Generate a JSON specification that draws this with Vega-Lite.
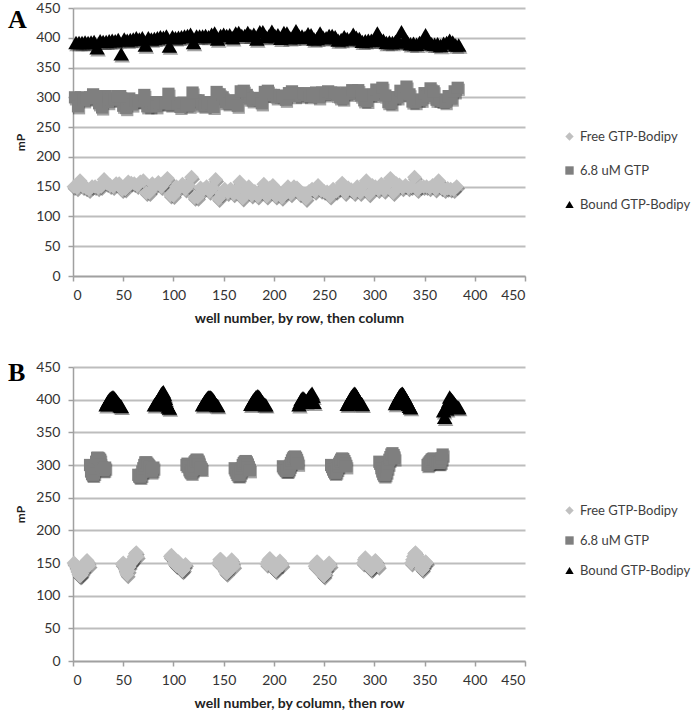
{
"$schema":"https://vega.github.io/schema/vega-lite/v6.json",
"padding":{"left":8,"top":1,"right":0,"bottom":0},
"background":"white",
"config":{"view":{"stroke":null},"font":"Lato",
"axis":{"labelFont":"Lato","labelFontSize":14,"labelColor":"#333333","domainColor":"#a0a0a0","domainWidth":1.5,"tickColor":"#a0a0a0","tickWidth":1.5,"tickSize":5,"titleFont":"Lato","titleFontWeight":"bold","titleColor":"#222222","gridColor":"#bdbdbd","gridWidth":2},
"legend":{"title":null,"labelFont":"Lato","labelFontSize":13,"labelColor":"#404040","symbolSize":70,"labelOffset":4,"symbolStrokeWidth":0}},
"data":{"values":[
{"s":"Free GTP-Bodipy","byRow":1,"byCol":1,"mP":150},{"s":"Free GTP-Bodipy","byRow":25,"byCol":2,"mP":148},{"s":"Free GTP-Bodipy","byRow":49,"byCol":3,"mP":145},{"s":"Free GTP-Bodipy","byRow":73,"byCol":4,"mP":140},{"s":"Free GTP-Bodipy","byRow":97,"byCol":5,"mP":136},{"s":"Free GTP-Bodipy","byRow":121,"byCol":6,"mP":132},{"s":"Free GTP-Bodipy","byRow":145,"byCol":7,"mP":130},{"s":"Free GTP-Bodipy","byRow":169,"byCol":8,"mP":131},{"s":"Free GTP-Bodipy","byRow":193,"byCol":9,"mP":134},{"s":"Free GTP-Bodipy","byRow":217,"byCol":10,"mP":138},{"s":"Free GTP-Bodipy","byRow":241,"byCol":11,"mP":142},{"s":"Free GTP-Bodipy","byRow":265,"byCol":12,"mP":147},{"s":"Free GTP-Bodipy","byRow":289,"byCol":13,"mP":152},{"s":"Free GTP-Bodipy","byRow":313,"byCol":14,"mP":154},{"s":"Free GTP-Bodipy","byRow":337,"byCol":15,"mP":150},{"s":"Free GTP-Bodipy","byRow":361,"byCol":16,"mP":146},
{"s":"6.8 uM GTP","byRow":2,"byCol":17,"mP":300},{"s":"6.8 uM GTP","byRow":26,"byCol":18,"mP":290},{"s":"6.8 uM GTP","byRow":50,"byCol":19,"mP":286},{"s":"6.8 uM GTP","byRow":74,"byCol":20,"mP":285},{"s":"6.8 uM GTP","byRow":98,"byCol":21,"mP":288},{"s":"6.8 uM GTP","byRow":122,"byCol":22,"mP":295},{"s":"6.8 uM GTP","byRow":146,"byCol":23,"mP":305},{"s":"6.8 uM GTP","byRow":170,"byCol":24,"mP":311},{"s":"6.8 uM GTP","byRow":194,"byCol":25,"mP":311},{"s":"6.8 uM GTP","byRow":218,"byCol":26,"mP":310},{"s":"6.8 uM GTP","byRow":242,"byCol":27,"mP":308},{"s":"6.8 uM GTP","byRow":266,"byCol":28,"mP":300},{"s":"6.8 uM GTP","byRow":290,"byCol":29,"mP":295},{"s":"6.8 uM GTP","byRow":314,"byCol":30,"mP":292},{"s":"6.8 uM GTP","byRow":338,"byCol":31,"mP":293},{"s":"6.8 uM GTP","byRow":362,"byCol":32,"mP":296},
{"s":"Bound GTP-Bodipy","byRow":3,"byCol":33,"mP":392},{"s":"Bound GTP-Bodipy","byRow":27,"byCol":34,"mP":395},{"s":"Bound GTP-Bodipy","byRow":51,"byCol":35,"mP":398},{"s":"Bound GTP-Bodipy","byRow":75,"byCol":36,"mP":400},{"s":"Bound GTP-Bodipy","byRow":99,"byCol":37,"mP":402},{"s":"Bound GTP-Bodipy","byRow":123,"byCol":38,"mP":403},{"s":"Bound GTP-Bodipy","byRow":147,"byCol":39,"mP":404},{"s":"Bound GTP-Bodipy","byRow":171,"byCol":40,"mP":404},{"s":"Bound GTP-Bodipy","byRow":195,"byCol":41,"mP":403},{"s":"Bound GTP-Bodipy","byRow":219,"byCol":42,"mP":401},{"s":"Bound GTP-Bodipy","byRow":243,"byCol":43,"mP":399},{"s":"Bound GTP-Bodipy","byRow":267,"byCol":44,"mP":397},{"s":"Bound GTP-Bodipy","byRow":291,"byCol":45,"mP":395},{"s":"Bound GTP-Bodipy","byRow":315,"byCol":46,"mP":393},{"s":"Bound GTP-Bodipy","byRow":339,"byCol":47,"mP":391},{"s":"Bound GTP-Bodipy","byRow":363,"byCol":48,"mP":390},
{"s":"Free GTP-Bodipy","byRow":4,"byCol":49,"mP":148},{"s":"Free GTP-Bodipy","byRow":28,"byCol":50,"mP":150},{"s":"Free GTP-Bodipy","byRow":52,"byCol":51,"mP":146},{"s":"Free GTP-Bodipy","byRow":76,"byCol":52,"mP":140},{"s":"Free GTP-Bodipy","byRow":100,"byCol":53,"mP":135},{"s":"Free GTP-Bodipy","byRow":124,"byCol":54,"mP":132},{"s":"Free GTP-Bodipy","byRow":148,"byCol":55,"mP":138},{"s":"Free GTP-Bodipy","byRow":172,"byCol":56,"mP":144},{"s":"Free GTP-Bodipy","byRow":196,"byCol":57,"mP":148},{"s":"Free GTP-Bodipy","byRow":220,"byCol":58,"mP":150},{"s":"Free GTP-Bodipy","byRow":244,"byCol":59,"mP":152},{"s":"Free GTP-Bodipy","byRow":268,"byCol":60,"mP":156},{"s":"Free GTP-Bodipy","byRow":292,"byCol":61,"mP":160},{"s":"Free GTP-Bodipy","byRow":316,"byCol":62,"mP":164},{"s":"Free GTP-Bodipy","byRow":340,"byCol":63,"mP":166},{"s":"Free GTP-Bodipy","byRow":364,"byCol":64,"mP":160},
{"s":"6.8 uM GTP","byRow":5,"byCol":65,"mP":285},{"s":"6.8 uM GTP","byRow":29,"byCol":66,"mP":283},{"s":"6.8 uM GTP","byRow":53,"byCol":67,"mP":282},{"s":"6.8 uM GTP","byRow":77,"byCol":68,"mP":285},{"s":"6.8 uM GTP","byRow":101,"byCol":69,"mP":290},{"s":"6.8 uM GTP","byRow":125,"byCol":70,"mP":295},{"s":"6.8 uM GTP","byRow":149,"byCol":71,"mP":300},{"s":"6.8 uM GTP","byRow":173,"byCol":72,"mP":304},{"s":"6.8 uM GTP","byRow":197,"byCol":73,"mP":304},{"s":"6.8 uM GTP","byRow":221,"byCol":74,"mP":302},{"s":"6.8 uM GTP","byRow":245,"byCol":75,"mP":300},{"s":"6.8 uM GTP","byRow":269,"byCol":76,"mP":298},{"s":"6.8 uM GTP","byRow":293,"byCol":77,"mP":294},{"s":"6.8 uM GTP","byRow":317,"byCol":78,"mP":290},{"s":"6.8 uM GTP","byRow":341,"byCol":79,"mP":292},{"s":"6.8 uM GTP","byRow":365,"byCol":80,"mP":296},
{"s":"Bound GTP-Bodipy","byRow":6,"byCol":81,"mP":392},{"s":"Bound GTP-Bodipy","byRow":30,"byCol":82,"mP":394},{"s":"Bound GTP-Bodipy","byRow":54,"byCol":83,"mP":396},{"s":"Bound GTP-Bodipy","byRow":78,"byCol":84,"mP":398},{"s":"Bound GTP-Bodipy","byRow":102,"byCol":85,"mP":400},{"s":"Bound GTP-Bodipy","byRow":126,"byCol":86,"mP":403},{"s":"Bound GTP-Bodipy","byRow":150,"byCol":87,"mP":406},{"s":"Bound GTP-Bodipy","byRow":174,"byCol":88,"mP":409},{"s":"Bound GTP-Bodipy","byRow":198,"byCol":89,"mP":411},{"s":"Bound GTP-Bodipy","byRow":222,"byCol":90,"mP":412},{"s":"Bound GTP-Bodipy","byRow":246,"byCol":91,"mP":408},{"s":"Bound GTP-Bodipy","byRow":270,"byCol":92,"mP":402},{"s":"Bound GTP-Bodipy","byRow":294,"byCol":93,"mP":396},{"s":"Bound GTP-Bodipy","byRow":318,"byCol":94,"mP":392},{"s":"Bound GTP-Bodipy","byRow":342,"byCol":95,"mP":389},{"s":"Bound GTP-Bodipy","byRow":366,"byCol":96,"mP":387},
{"s":"Free GTP-Bodipy","byRow":7,"byCol":97,"mP":160},{"s":"Free GTP-Bodipy","byRow":31,"byCol":98,"mP":162},{"s":"Free GTP-Bodipy","byRow":55,"byCol":99,"mP":158},{"s":"Free GTP-Bodipy","byRow":79,"byCol":100,"mP":155},{"s":"Free GTP-Bodipy","byRow":103,"byCol":101,"mP":150},{"s":"Free GTP-Bodipy","byRow":127,"byCol":102,"mP":148},{"s":"Free GTP-Bodipy","byRow":151,"byCol":103,"mP":146},{"s":"Free GTP-Bodipy","byRow":175,"byCol":104,"mP":150},{"s":"Free GTP-Bodipy","byRow":199,"byCol":105,"mP":152},{"s":"Free GTP-Bodipy","byRow":223,"byCol":106,"mP":148},{"s":"Free GTP-Bodipy","byRow":247,"byCol":107,"mP":144},{"s":"Free GTP-Bodipy","byRow":271,"byCol":108,"mP":140},{"s":"Free GTP-Bodipy","byRow":295,"byCol":109,"mP":138},{"s":"Free GTP-Bodipy","byRow":319,"byCol":110,"mP":140},{"s":"Free GTP-Bodipy","byRow":343,"byCol":111,"mP":145},{"s":"Free GTP-Bodipy","byRow":367,"byCol":112,"mP":148},
{"s":"6.8 uM GTP","byRow":8,"byCol":113,"mP":300},{"s":"6.8 uM GTP","byRow":32,"byCol":114,"mP":302},{"s":"6.8 uM GTP","byRow":56,"byCol":115,"mP":298},{"s":"6.8 uM GTP","byRow":80,"byCol":116,"mP":292},{"s":"6.8 uM GTP","byRow":104,"byCol":117,"mP":290},{"s":"6.8 uM GTP","byRow":128,"byCol":118,"mP":288},{"s":"6.8 uM GTP","byRow":152,"byCol":119,"mP":292},{"s":"6.8 uM GTP","byRow":176,"byCol":120,"mP":298},{"s":"6.8 uM GTP","byRow":200,"byCol":121,"mP":304},{"s":"6.8 uM GTP","byRow":224,"byCol":122,"mP":306},{"s":"6.8 uM GTP","byRow":248,"byCol":123,"mP":308},{"s":"6.8 uM GTP","byRow":272,"byCol":124,"mP":308},{"s":"6.8 uM GTP","byRow":296,"byCol":125,"mP":305},{"s":"6.8 uM GTP","byRow":320,"byCol":126,"mP":300},{"s":"6.8 uM GTP","byRow":344,"byCol":127,"mP":296},{"s":"6.8 uM GTP","byRow":368,"byCol":128,"mP":294},
{"s":"Bound GTP-Bodipy","byRow":9,"byCol":129,"mP":392},{"s":"Bound GTP-Bodipy","byRow":33,"byCol":130,"mP":394},{"s":"Bound GTP-Bodipy","byRow":57,"byCol":131,"mP":397},{"s":"Bound GTP-Bodipy","byRow":81,"byCol":132,"mP":399},{"s":"Bound GTP-Bodipy","byRow":105,"byCol":133,"mP":401},{"s":"Bound GTP-Bodipy","byRow":129,"byCol":134,"mP":403},{"s":"Bound GTP-Bodipy","byRow":153,"byCol":135,"mP":404},{"s":"Bound GTP-Bodipy","byRow":177,"byCol":136,"mP":404},{"s":"Bound GTP-Bodipy","byRow":201,"byCol":137,"mP":404},{"s":"Bound GTP-Bodipy","byRow":225,"byCol":138,"mP":403},{"s":"Bound GTP-Bodipy","byRow":249,"byCol":139,"mP":401},{"s":"Bound GTP-Bodipy","byRow":273,"byCol":140,"mP":399},{"s":"Bound GTP-Bodipy","byRow":297,"byCol":141,"mP":396},{"s":"Bound GTP-Bodipy","byRow":321,"byCol":142,"mP":394},{"s":"Bound GTP-Bodipy","byRow":345,"byCol":143,"mP":392},{"s":"Bound GTP-Bodipy","byRow":369,"byCol":144,"mP":391},
{"s":"Free GTP-Bodipy","byRow":10,"byCol":145,"mP":150},{"s":"Free GTP-Bodipy","byRow":34,"byCol":146,"mP":155},{"s":"Free GTP-Bodipy","byRow":58,"byCol":147,"mP":156},{"s":"Free GTP-Bodipy","byRow":82,"byCol":148,"mP":152},{"s":"Free GTP-Bodipy","byRow":106,"byCol":149,"mP":148},{"s":"Free GTP-Bodipy","byRow":130,"byCol":150,"mP":145},{"s":"Free GTP-Bodipy","byRow":154,"byCol":151,"mP":140},{"s":"Free GTP-Bodipy","byRow":178,"byCol":152,"mP":136},{"s":"Free GTP-Bodipy","byRow":202,"byCol":153,"mP":134},{"s":"Free GTP-Bodipy","byRow":226,"byCol":154,"mP":138},{"s":"Free GTP-Bodipy","byRow":250,"byCol":155,"mP":142},{"s":"Free GTP-Bodipy","byRow":274,"byCol":156,"mP":148},{"s":"Free GTP-Bodipy","byRow":298,"byCol":157,"mP":152},{"s":"Free GTP-Bodipy","byRow":322,"byCol":158,"mP":155},{"s":"Free GTP-Bodipy","byRow":346,"byCol":159,"mP":150},{"s":"Free GTP-Bodipy","byRow":370,"byCol":160,"mP":145},
{"s":"6.8 uM GTP","byRow":11,"byCol":161,"mP":295},{"s":"6.8 uM GTP","byRow":35,"byCol":162,"mP":292},{"s":"6.8 uM GTP","byRow":59,"byCol":163,"mP":288},{"s":"6.8 uM GTP","byRow":83,"byCol":164,"mP":285},{"s":"6.8 uM GTP","byRow":107,"byCol":165,"mP":284},{"s":"6.8 uM GTP","byRow":131,"byCol":166,"mP":286},{"s":"6.8 uM GTP","byRow":155,"byCol":167,"mP":290},{"s":"6.8 uM GTP","byRow":179,"byCol":168,"mP":295},{"s":"6.8 uM GTP","byRow":203,"byCol":169,"mP":300},{"s":"6.8 uM GTP","byRow":227,"byCol":170,"mP":303},{"s":"6.8 uM GTP","byRow":251,"byCol":171,"mP":305},{"s":"6.8 uM GTP","byRow":275,"byCol":172,"mP":306},{"s":"6.8 uM GTP","byRow":299,"byCol":173,"mP":304},{"s":"6.8 uM GTP","byRow":323,"byCol":174,"mP":300},{"s":"6.8 uM GTP","byRow":347,"byCol":175,"mP":296},{"s":"6.8 uM GTP","byRow":371,"byCol":176,"mP":292},
{"s":"Bound GTP-Bodipy","byRow":12,"byCol":177,"mP":393},{"s":"Bound GTP-Bodipy","byRow":36,"byCol":178,"mP":395},{"s":"Bound GTP-Bodipy","byRow":60,"byCol":179,"mP":398},{"s":"Bound GTP-Bodipy","byRow":84,"byCol":180,"mP":400},{"s":"Bound GTP-Bodipy","byRow":108,"byCol":181,"mP":402},{"s":"Bound GTP-Bodipy","byRow":132,"byCol":182,"mP":404},{"s":"Bound GTP-Bodipy","byRow":156,"byCol":183,"mP":405},{"s":"Bound GTP-Bodipy","byRow":180,"byCol":184,"mP":406},{"s":"Bound GTP-Bodipy","byRow":204,"byCol":185,"mP":405},{"s":"Bound GTP-Bodipy","byRow":228,"byCol":186,"mP":403},{"s":"Bound GTP-Bodipy","byRow":252,"byCol":187,"mP":400},{"s":"Bound GTP-Bodipy","byRow":276,"byCol":188,"mP":398},{"s":"Bound GTP-Bodipy","byRow":300,"byCol":189,"mP":396},{"s":"Bound GTP-Bodipy","byRow":324,"byCol":190,"mP":394},{"s":"Bound GTP-Bodipy","byRow":348,"byCol":191,"mP":393},{"s":"Bound GTP-Bodipy","byRow":372,"byCol":192,"mP":392},
{"s":"Free GTP-Bodipy","byRow":13,"byCol":193,"mP":148},{"s":"Free GTP-Bodipy","byRow":37,"byCol":194,"mP":152},{"s":"Free GTP-Bodipy","byRow":61,"byCol":195,"mP":155},{"s":"Free GTP-Bodipy","byRow":85,"byCol":196,"mP":157},{"s":"Free GTP-Bodipy","byRow":109,"byCol":197,"mP":154},{"s":"Free GTP-Bodipy","byRow":133,"byCol":198,"mP":150},{"s":"Free GTP-Bodipy","byRow":157,"byCol":199,"mP":146},{"s":"Free GTP-Bodipy","byRow":181,"byCol":200,"mP":142},{"s":"Free GTP-Bodipy","byRow":205,"byCol":201,"mP":140},{"s":"Free GTP-Bodipy","byRow":229,"byCol":202,"mP":138},{"s":"Free GTP-Bodipy","byRow":253,"byCol":203,"mP":141},{"s":"Free GTP-Bodipy","byRow":277,"byCol":204,"mP":145},{"s":"Free GTP-Bodipy","byRow":301,"byCol":205,"mP":150},{"s":"Free GTP-Bodipy","byRow":325,"byCol":206,"mP":153},{"s":"Free GTP-Bodipy","byRow":349,"byCol":207,"mP":150},{"s":"Free GTP-Bodipy","byRow":373,"byCol":208,"mP":147},
{"s":"6.8 uM GTP","byRow":14,"byCol":209,"mP":298},{"s":"6.8 uM GTP","byRow":38,"byCol":210,"mP":296},{"s":"6.8 uM GTP","byRow":62,"byCol":211,"mP":294},{"s":"6.8 uM GTP","byRow":86,"byCol":212,"mP":292},{"s":"6.8 uM GTP","byRow":110,"byCol":213,"mP":291},{"s":"6.8 uM GTP","byRow":134,"byCol":214,"mP":292},{"s":"6.8 uM GTP","byRow":158,"byCol":215,"mP":295},{"s":"6.8 uM GTP","byRow":182,"byCol":216,"mP":299},{"s":"6.8 uM GTP","byRow":206,"byCol":217,"mP":303},{"s":"6.8 uM GTP","byRow":230,"byCol":218,"mP":307},{"s":"6.8 uM GTP","byRow":254,"byCol":219,"mP":310},{"s":"6.8 uM GTP","byRow":278,"byCol":220,"mP":312},{"s":"6.8 uM GTP","byRow":302,"byCol":221,"mP":313},{"s":"6.8 uM GTP","byRow":326,"byCol":222,"mP":311},{"s":"6.8 uM GTP","byRow":350,"byCol":223,"mP":307},{"s":"6.8 uM GTP","byRow":374,"byCol":224,"mP":302},
{"s":"Bound GTP-Bodipy","byRow":15,"byCol":225,"mP":392},{"s":"Bound GTP-Bodipy","byRow":39,"byCol":226,"mP":396},{"s":"Bound GTP-Bodipy","byRow":63,"byCol":227,"mP":400},{"s":"Bound GTP-Bodipy","byRow":87,"byCol":228,"mP":402},{"s":"Bound GTP-Bodipy","byRow":111,"byCol":229,"mP":403},{"s":"Bound GTP-Bodipy","byRow":135,"byCol":230,"mP":402},{"s":"Bound GTP-Bodipy","byRow":159,"byCol":231,"mP":400},{"s":"Bound GTP-Bodipy","byRow":183,"byCol":232,"mP":398},{"s":"Bound GTP-Bodipy","byRow":207,"byCol":233,"mP":399},{"s":"Bound GTP-Bodipy","byRow":231,"byCol":234,"mP":401},{"s":"Bound GTP-Bodipy","byRow":255,"byCol":235,"mP":404},{"s":"Bound GTP-Bodipy","byRow":279,"byCol":236,"mP":406},{"s":"Bound GTP-Bodipy","byRow":303,"byCol":237,"mP":408},{"s":"Bound GTP-Bodipy","byRow":327,"byCol":238,"mP":410},{"s":"Bound GTP-Bodipy","byRow":351,"byCol":239,"mP":405},{"s":"Bound GTP-Bodipy","byRow":375,"byCol":240,"mP":396},
{"s":"Free GTP-Bodipy","byRow":16,"byCol":241,"mP":145},{"s":"Free GTP-Bodipy","byRow":40,"byCol":242,"mP":150},{"s":"Free GTP-Bodipy","byRow":64,"byCol":243,"mP":152},{"s":"Free GTP-Bodipy","byRow":88,"byCol":244,"mP":150},{"s":"Free GTP-Bodipy","byRow":112,"byCol":245,"mP":146},{"s":"Free GTP-Bodipy","byRow":136,"byCol":246,"mP":142},{"s":"Free GTP-Bodipy","byRow":160,"byCol":247,"mP":138},{"s":"Free GTP-Bodipy","byRow":184,"byCol":248,"mP":134},{"s":"Free GTP-Bodipy","byRow":208,"byCol":249,"mP":132},{"s":"Free GTP-Bodipy","byRow":232,"byCol":250,"mP":130},{"s":"Free GTP-Bodipy","byRow":256,"byCol":251,"mP":134},{"s":"Free GTP-Bodipy","byRow":280,"byCol":252,"mP":140},{"s":"Free GTP-Bodipy","byRow":304,"byCol":253,"mP":145},{"s":"Free GTP-Bodipy","byRow":328,"byCol":254,"mP":148},{"s":"Free GTP-Bodipy","byRow":352,"byCol":255,"mP":150},{"s":"Free GTP-Bodipy","byRow":376,"byCol":256,"mP":146},
{"s":"6.8 uM GTP","byRow":17,"byCol":257,"mP":300},{"s":"6.8 uM GTP","byRow":41,"byCol":258,"mP":297},{"s":"6.8 uM GTP","byRow":65,"byCol":259,"mP":293},{"s":"6.8 uM GTP","byRow":89,"byCol":260,"mP":290},{"s":"6.8 uM GTP","byRow":113,"byCol":261,"mP":288},{"s":"6.8 uM GTP","byRow":137,"byCol":262,"mP":290},{"s":"6.8 uM GTP","byRow":161,"byCol":263,"mP":294},{"s":"6.8 uM GTP","byRow":185,"byCol":264,"mP":298},{"s":"6.8 uM GTP","byRow":209,"byCol":265,"mP":302},{"s":"6.8 uM GTP","byRow":233,"byCol":266,"mP":305},{"s":"6.8 uM GTP","byRow":257,"byCol":267,"mP":308},{"s":"6.8 uM GTP","byRow":281,"byCol":268,"mP":310},{"s":"6.8 uM GTP","byRow":305,"byCol":269,"mP":309},{"s":"6.8 uM GTP","byRow":329,"byCol":270,"mP":306},{"s":"6.8 uM GTP","byRow":353,"byCol":271,"mP":302},{"s":"6.8 uM GTP","byRow":377,"byCol":272,"mP":298},
{"s":"Bound GTP-Bodipy","byRow":18,"byCol":273,"mP":393},{"s":"Bound GTP-Bodipy","byRow":42,"byCol":274,"mP":395},{"s":"Bound GTP-Bodipy","byRow":66,"byCol":275,"mP":398},{"s":"Bound GTP-Bodipy","byRow":90,"byCol":276,"mP":401},{"s":"Bound GTP-Bodipy","byRow":114,"byCol":277,"mP":404},{"s":"Bound GTP-Bodipy","byRow":138,"byCol":278,"mP":406},{"s":"Bound GTP-Bodipy","byRow":162,"byCol":279,"mP":408},{"s":"Bound GTP-Bodipy","byRow":186,"byCol":280,"mP":410},{"s":"Bound GTP-Bodipy","byRow":210,"byCol":281,"mP":409},{"s":"Bound GTP-Bodipy","byRow":234,"byCol":282,"mP":407},{"s":"Bound GTP-Bodipy","byRow":258,"byCol":283,"mP":404},{"s":"Bound GTP-Bodipy","byRow":282,"byCol":284,"mP":401},{"s":"Bound GTP-Bodipy","byRow":306,"byCol":285,"mP":398},{"s":"Bound GTP-Bodipy","byRow":330,"byCol":286,"mP":396},{"s":"Bound GTP-Bodipy","byRow":354,"byCol":287,"mP":394},{"s":"Bound GTP-Bodipy","byRow":378,"byCol":288,"mP":393},
{"s":"Free GTP-Bodipy","byRow":19,"byCol":289,"mP":150},{"s":"Free GTP-Bodipy","byRow":43,"byCol":290,"mP":155},{"s":"Free GTP-Bodipy","byRow":67,"byCol":291,"mP":158},{"s":"Free GTP-Bodipy","byRow":91,"byCol":292,"mP":156},{"s":"Free GTP-Bodipy","byRow":115,"byCol":293,"mP":152},{"s":"Free GTP-Bodipy","byRow":139,"byCol":294,"mP":148},{"s":"Free GTP-Bodipy","byRow":163,"byCol":295,"mP":145},{"s":"Free GTP-Bodipy","byRow":187,"byCol":296,"mP":142},{"s":"Free GTP-Bodipy","byRow":211,"byCol":297,"mP":140},{"s":"Free GTP-Bodipy","byRow":235,"byCol":298,"mP":142},{"s":"Free GTP-Bodipy","byRow":259,"byCol":299,"mP":146},{"s":"Free GTP-Bodipy","byRow":283,"byCol":300,"mP":150},{"s":"Free GTP-Bodipy","byRow":307,"byCol":301,"mP":154},{"s":"Free GTP-Bodipy","byRow":331,"byCol":302,"mP":152},{"s":"Free GTP-Bodipy","byRow":355,"byCol":303,"mP":148},{"s":"Free GTP-Bodipy","byRow":379,"byCol":304,"mP":145},
{"s":"6.8 uM GTP","byRow":20,"byCol":305,"mP":305},{"s":"6.8 uM GTP","byRow":44,"byCol":306,"mP":302},{"s":"6.8 uM GTP","byRow":68,"byCol":307,"mP":295},{"s":"6.8 uM GTP","byRow":92,"byCol":308,"mP":290},{"s":"6.8 uM GTP","byRow":116,"byCol":309,"mP":286},{"s":"6.8 uM GTP","byRow":140,"byCol":310,"mP":284},{"s":"6.8 uM GTP","byRow":164,"byCol":311,"mP":286},{"s":"6.8 uM GTP","byRow":188,"byCol":312,"mP":290},{"s":"6.8 uM GTP","byRow":212,"byCol":313,"mP":296},{"s":"6.8 uM GTP","byRow":236,"byCol":314,"mP":302},{"s":"6.8 uM GTP","byRow":260,"byCol":315,"mP":308},{"s":"6.8 uM GTP","byRow":284,"byCol":316,"mP":312},{"s":"6.8 uM GTP","byRow":308,"byCol":317,"mP":316},{"s":"6.8 uM GTP","byRow":332,"byCol":318,"mP":318},{"s":"6.8 uM GTP","byRow":356,"byCol":319,"mP":315},{"s":"6.8 uM GTP","byRow":380,"byCol":320,"mP":310},
{"s":"Bound GTP-Bodipy","byRow":21,"byCol":321,"mP":394},{"s":"Bound GTP-Bodipy","byRow":45,"byCol":322,"mP":397},{"s":"Bound GTP-Bodipy","byRow":69,"byCol":323,"mP":400},{"s":"Bound GTP-Bodipy","byRow":93,"byCol":324,"mP":403},{"s":"Bound GTP-Bodipy","byRow":117,"byCol":325,"mP":406},{"s":"Bound GTP-Bodipy","byRow":141,"byCol":326,"mP":408},{"s":"Bound GTP-Bodipy","byRow":165,"byCol":327,"mP":409},{"s":"Bound GTP-Bodipy","byRow":189,"byCol":328,"mP":410},{"s":"Bound GTP-Bodipy","byRow":213,"byCol":329,"mP":408},{"s":"Bound GTP-Bodipy","byRow":237,"byCol":330,"mP":405},{"s":"Bound GTP-Bodipy","byRow":261,"byCol":331,"mP":402},{"s":"Bound GTP-Bodipy","byRow":285,"byCol":332,"mP":399},{"s":"Bound GTP-Bodipy","byRow":309,"byCol":333,"mP":396},{"s":"Bound GTP-Bodipy","byRow":333,"byCol":334,"mP":393},{"s":"Bound GTP-Bodipy","byRow":357,"byCol":335,"mP":390},{"s":"Bound GTP-Bodipy","byRow":381,"byCol":336,"mP":388},
{"s":"Free GTP-Bodipy","byRow":22,"byCol":337,"mP":150},{"s":"Free GTP-Bodipy","byRow":46,"byCol":338,"mP":155},{"s":"Free GTP-Bodipy","byRow":70,"byCol":339,"mP":160},{"s":"Free GTP-Bodipy","byRow":94,"byCol":340,"mP":164},{"s":"Free GTP-Bodipy","byRow":118,"byCol":341,"mP":166},{"s":"Free GTP-Bodipy","byRow":142,"byCol":342,"mP":162},{"s":"Free GTP-Bodipy","byRow":166,"byCol":343,"mP":158},{"s":"Free GTP-Bodipy","byRow":190,"byCol":344,"mP":154},{"s":"Free GTP-Bodipy","byRow":214,"byCol":345,"mP":150},{"s":"Free GTP-Bodipy","byRow":238,"byCol":346,"mP":146},{"s":"Free GTP-Bodipy","byRow":262,"byCol":347,"mP":142},{"s":"Free GTP-Bodipy","byRow":286,"byCol":348,"mP":140},{"s":"Free GTP-Bodipy","byRow":310,"byCol":349,"mP":144},{"s":"Free GTP-Bodipy","byRow":334,"byCol":350,"mP":148},{"s":"Free GTP-Bodipy","byRow":358,"byCol":351,"mP":152},{"s":"Free GTP-Bodipy","byRow":382,"byCol":352,"mP":150},
{"s":"6.8 uM GTP","byRow":23,"byCol":353,"mP":300},{"s":"6.8 uM GTP","byRow":47,"byCol":354,"mP":302},{"s":"6.8 uM GTP","byRow":71,"byCol":355,"mP":304},{"s":"6.8 uM GTP","byRow":95,"byCol":356,"mP":306},{"s":"6.8 uM GTP","byRow":119,"byCol":357,"mP":308},{"s":"6.8 uM GTP","byRow":143,"byCol":358,"mP":309},{"s":"6.8 uM GTP","byRow":167,"byCol":359,"mP":310},{"s":"6.8 uM GTP","byRow":191,"byCol":360,"mP":309},{"s":"6.8 uM GTP","byRow":215,"byCol":361,"mP":307},{"s":"6.8 uM GTP","byRow":239,"byCol":362,"mP":305},{"s":"6.8 uM GTP","byRow":263,"byCol":363,"mP":304},{"s":"6.8 uM GTP","byRow":287,"byCol":364,"mP":303},{"s":"6.8 uM GTP","byRow":311,"byCol":365,"mP":303},{"s":"6.8 uM GTP","byRow":335,"byCol":366,"mP":305},{"s":"6.8 uM GTP","byRow":359,"byCol":367,"mP":310},{"s":"6.8 uM GTP","byRow":383,"byCol":368,"mP":316},
{"s":"Bound GTP-Bodipy","byRow":24,"byCol":369,"mP":383},{"s":"Bound GTP-Bodipy","byRow":48,"byCol":370,"mP":373},{"s":"Bound GTP-Bodipy","byRow":72,"byCol":371,"mP":388},{"s":"Bound GTP-Bodipy","byRow":96,"byCol":372,"mP":386},{"s":"Bound GTP-Bodipy","byRow":120,"byCol":373,"mP":392},{"s":"Bound GTP-Bodipy","byRow":144,"byCol":374,"mP":398},{"s":"Bound GTP-Bodipy","byRow":168,"byCol":375,"mP":404},{"s":"Bound GTP-Bodipy","byRow":192,"byCol":376,"mP":402},{"s":"Bound GTP-Bodipy","byRow":216,"byCol":377,"mP":400},{"s":"Bound GTP-Bodipy","byRow":240,"byCol":378,"mP":398},{"s":"Bound GTP-Bodipy","byRow":264,"byCol":379,"mP":396},{"s":"Bound GTP-Bodipy","byRow":288,"byCol":380,"mP":394},{"s":"Bound GTP-Bodipy","byRow":312,"byCol":381,"mP":392},{"s":"Bound GTP-Bodipy","byRow":336,"byCol":382,"mP":390},{"s":"Bound GTP-Bodipy","byRow":360,"byCol":383,"mP":389},{"s":"Bound GTP-Bodipy","byRow":384,"byCol":384,"mP":388}
]},
"spacing":35,
"resolve":{"legend":{"color":"independent","shape":"independent"}},
"vconcat":[
{"width":452,"height":268,
"title":{"text":"A","anchor":"start","frame":"group","offset":0,"dx":-65,"dy":32,"font":"Liberation Serif","fontSize":26,"fontWeight":"bold","color":"#000000"},
"encoding":{
"x":{"field":"byRow","type":"quantitative","scale":{"domain":[0,450],"nice":false},"axis":{"values":[0,50,100,150,200,250,300,350,400,450],"grid":false,"labelPadding":7,"title":"well number, by row, then column","titleFontSize":14,"titlePadding":9}},
"y":{"field":"mP","type":"quantitative","scale":{"domain":[0,450],"nice":false},"axis":{"values":[0,50,100,150,200,250,300,350,400,450],"grid":true,"labelPadding":8,"title":"mP","titleFontSize":12,"titlePadding":8}}
},
"layer":[
{"transform":[{"filter":"datum.s == 'Free GTP-Bodipy'"}],"mark":{"type":"point","shape":"diamond","filled":true,"size":220,"color":"#333333","opacity":0.45,"xOffset":1,"yOffset":2}},
{"transform":[{"filter":"datum.s == '6.8 uM GTP'"}],"mark":{"type":"point","shape":"square","filled":true,"size":150,"color":"#333333","opacity":0.45,"xOffset":1,"yOffset":2}},
{"transform":[{"filter":"datum.s == 'Bound GTP-Bodipy'"}],"mark":{"type":"point","shape":"triangle-up","filled":true,"size":240,"color":"#333333","opacity":0.45,"xOffset":1,"yOffset":2}},
{"transform":[{"filter":"datum.s == 'Free GTP-Bodipy'"}],"mark":{"type":"point","filled":true,"size":220,"opacity":1},
"encoding":{"shape":{"field":"s","type":"nominal","scale":{"domain":["Free GTP-Bodipy","6.8 uM GTP","Bound GTP-Bodipy"],"range":["diamond","square","triangle-up"]},"legend":{"orient":"none","legendX":490,"legendY":122,"rowPadding":20}},
"color":{"field":"s","type":"nominal","scale":{"domain":["Free GTP-Bodipy","6.8 uM GTP","Bound GTP-Bodipy"],"range":["#c0c0c0","#7f7f7f","#000000"]},"legend":{"orient":"none","legendX":490,"legendY":122,"rowPadding":20}}}},
{"transform":[{"filter":"datum.s == '6.8 uM GTP'"}],"mark":{"type":"point","filled":true,"size":150,"opacity":1},
"encoding":{"shape":{"field":"s","type":"nominal","scale":{"domain":["Free GTP-Bodipy","6.8 uM GTP","Bound GTP-Bodipy"],"range":["diamond","square","triangle-up"]},"legend":{"orient":"none","legendX":490,"legendY":122,"rowPadding":20}},
"color":{"field":"s","type":"nominal","scale":{"domain":["Free GTP-Bodipy","6.8 uM GTP","Bound GTP-Bodipy"],"range":["#c0c0c0","#7f7f7f","#000000"]},"legend":{"orient":"none","legendX":490,"legendY":122,"rowPadding":20}}}},
{"transform":[{"filter":"datum.s == 'Bound GTP-Bodipy'"}],"mark":{"type":"point","filled":true,"size":240,"opacity":1},
"encoding":{"shape":{"field":"s","type":"nominal","scale":{"domain":["Free GTP-Bodipy","6.8 uM GTP","Bound GTP-Bodipy"],"range":["diamond","square","triangle-up"]},"legend":{"orient":"none","legendX":490,"legendY":122,"rowPadding":20}},
"color":{"field":"s","type":"nominal","scale":{"domain":["Free GTP-Bodipy","6.8 uM GTP","Bound GTP-Bodipy"],"range":["#c0c0c0","#7f7f7f","#000000"]},"legend":{"orient":"none","legendX":490,"legendY":122,"rowPadding":20}}}}
]},
{"width":452,"height":294,
"title":{"text":"B","anchor":"start","frame":"group","offset":0,"dx":-65,"dy":26,"font":"Liberation Serif","fontSize":26,"fontWeight":"bold","color":"#000000"},
"encoding":{
"x":{"field":"byCol","type":"quantitative","scale":{"domain":[0,450],"nice":false},"axis":{"values":[0,50,100,150,200,250,300,350,400,450],"grid":false,"labelPadding":7,"title":"well number, by column, then row","titleFontSize":14,"titlePadding":9}},
"y":{"field":"mP","type":"quantitative","scale":{"domain":[0,450],"nice":false},"axis":{"values":[0,50,100,150,200,250,300,350,400,450],"grid":true,"labelPadding":8,"title":"mP","titleFontSize":12,"titlePadding":8}}
},
"layer":[
{"transform":[{"filter":"datum.s == 'Free GTP-Bodipy'"}],"mark":{"type":"point","shape":"diamond","filled":true,"size":220,"color":"#333333","opacity":0.45,"xOffset":1,"yOffset":2}},
{"transform":[{"filter":"datum.s == '6.8 uM GTP'"}],"mark":{"type":"point","shape":"square","filled":true,"size":150,"color":"#333333","opacity":0.45,"xOffset":1,"yOffset":2}},
{"transform":[{"filter":"datum.s == 'Bound GTP-Bodipy'"}],"mark":{"type":"point","shape":"triangle-up","filled":true,"size":240,"color":"#333333","opacity":0.45,"xOffset":1,"yOffset":2}},
{"transform":[{"filter":"datum.s == 'Free GTP-Bodipy'"}],"mark":{"type":"point","filled":true,"size":220,"opacity":1},
"encoding":{"shape":{"field":"s","type":"nominal","scale":{"domain":["Free GTP-Bodipy","6.8 uM GTP","Bound GTP-Bodipy"],"range":["diamond","square","triangle-up"]},"legend":{"orient":"none","legendX":490,"legendY":137,"rowPadding":16}},
"color":{"field":"s","type":"nominal","scale":{"domain":["Free GTP-Bodipy","6.8 uM GTP","Bound GTP-Bodipy"],"range":["#c0c0c0","#7f7f7f","#000000"]},"legend":{"orient":"none","legendX":490,"legendY":137,"rowPadding":16}}}},
{"transform":[{"filter":"datum.s == '6.8 uM GTP'"}],"mark":{"type":"point","filled":true,"size":150,"opacity":1},
"encoding":{"shape":{"field":"s","type":"nominal","scale":{"domain":["Free GTP-Bodipy","6.8 uM GTP","Bound GTP-Bodipy"],"range":["diamond","square","triangle-up"]},"legend":{"orient":"none","legendX":490,"legendY":137,"rowPadding":16}},
"color":{"field":"s","type":"nominal","scale":{"domain":["Free GTP-Bodipy","6.8 uM GTP","Bound GTP-Bodipy"],"range":["#c0c0c0","#7f7f7f","#000000"]},"legend":{"orient":"none","legendX":490,"legendY":137,"rowPadding":16}}}},
{"transform":[{"filter":"datum.s == 'Bound GTP-Bodipy'"}],"mark":{"type":"point","filled":true,"size":240,"opacity":1},
"encoding":{"shape":{"field":"s","type":"nominal","scale":{"domain":["Free GTP-Bodipy","6.8 uM GTP","Bound GTP-Bodipy"],"range":["diamond","square","triangle-up"]},"legend":{"orient":"none","legendX":490,"legendY":137,"rowPadding":16}},
"color":{"field":"s","type":"nominal","scale":{"domain":["Free GTP-Bodipy","6.8 uM GTP","Bound GTP-Bodipy"],"range":["#c0c0c0","#7f7f7f","#000000"]},"legend":{"orient":"none","legendX":490,"legendY":137,"rowPadding":16}}}}
]}
]
}
